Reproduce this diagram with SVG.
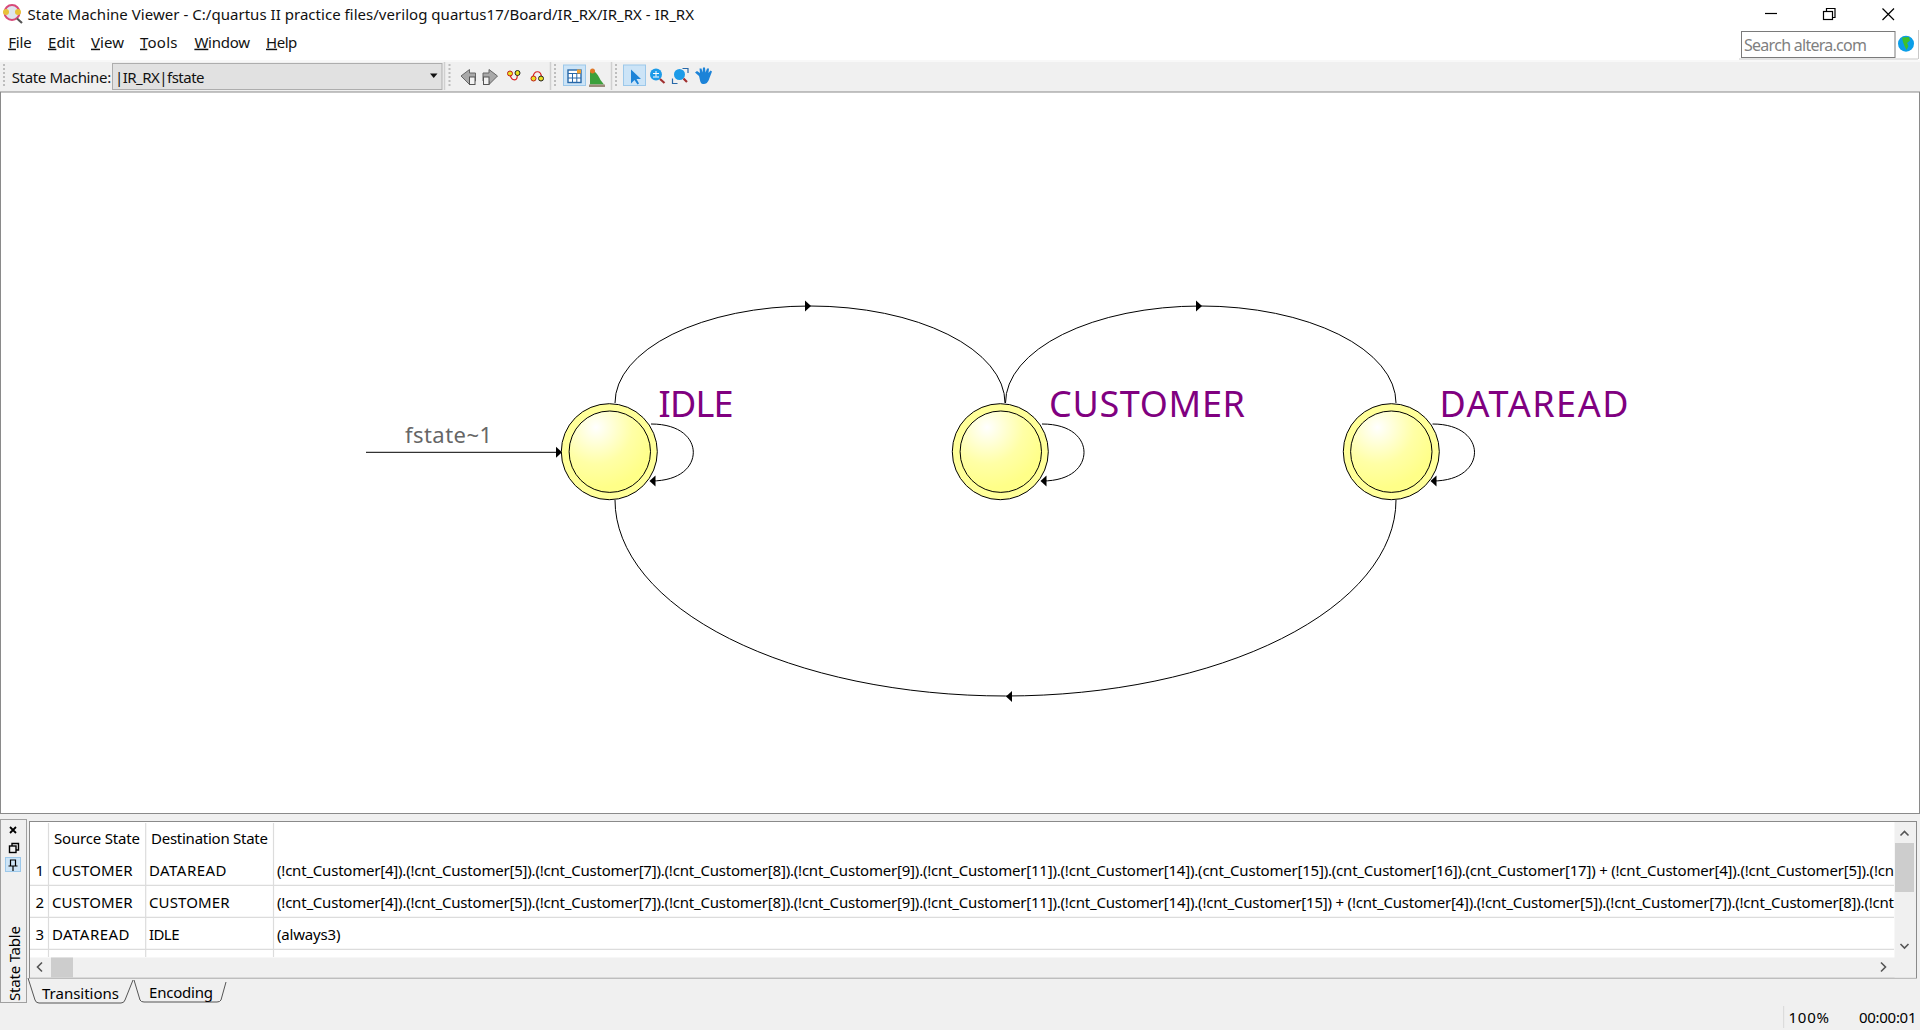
<svg xmlns="http://www.w3.org/2000/svg" width="1920" height="1030" viewBox="0 0 1920 1030">
<style>
text{font-family:"Noto Sans","Open Sans","Liberation Sans",sans-serif;fill:#000;font-size:15px}
.ui{fill:#111}
.cell{font-size:15px}
.state{font-size:36px;fill:#800080}
.edge{fill:none;stroke:#000;stroke-width:1}
.ring{fill:#ffff99;stroke:#000;stroke-width:1}
.core{fill:url(#ball);stroke:#000;stroke-width:1}
.grid{stroke:#dcdcdc;stroke-width:1.2;fill:none}
.sep{stroke:#d0d0d0;stroke-width:1.5}
.grip{stroke:#bdbdbd;stroke-width:2;stroke-dasharray:2 2}
.chev{fill:none;stroke:#555;stroke-width:1.6}
.ico{fill:#a9a9a9;stroke:#666;stroke-width:1}
.on{fill:#cce4f7;stroke:#9cc8ea;stroke-width:1}
.wb{fill:none;stroke:#000;stroke-width:1.2}
.tab{fill:none;stroke:#555;stroke-width:1}
</style>
<defs>
<radialGradient id="ball" cx="0.33" cy="0.2" r="0.75"><stop offset="0" stop-color="#ffffff"/><stop offset="0.6" stop-color="#ffffa6"/><stop offset="1" stop-color="#ffff88"/></radialGradient>
<polygon id="arrowR" points="-6,-5.500 0,0 -6,5.500"/>
</defs>
<rect width="1920" height="1030" fill="#f0f0f0"/>
<rect width="1920" height="60" fill="#fff"/>
<g id="titlebar">
<circle cx="12" cy="12.500" r="7.500" fill="#dfe6ee" stroke="#d84a7a" stroke-width="2"/>
<circle cx="6" cy="12" r="3" fill="#e8c13a"/><circle cx="18" cy="12" r="3" fill="#e8c13a"/>
<line x1="17" y1="18.500" x2="22" y2="23" stroke="#555" stroke-width="2.200"/>
<text x="27.500" y="20" class="ui" textLength="666.500" lengthAdjust="spacing">State Machine Viewer - C:/quartus II practice files/verilog quartus17/Board/IR_RX/IR_RX - IR_RX</text>
<line x1="1765" y1="13.500" x2="1777" y2="13.500" class="wb"/>
<rect x="1823.500" y="11.500" width="9" height="8" fill="#fff" stroke="#000" stroke-width="1.200"/>
<path d="M1826.500 11.500V8.500H1835V17.500H1832.500" class="wb"/>
<path d="M1882.500 8.500L1894 20M1894 8.500L1882.500 20" class="wb"/>
</g>
<g id="menubar">
<text x="8.200" y="47.700" class="ui" textLength="23.500" lengthAdjust="spacing"><tspan text-decoration="underline">F</tspan>ile</text>
<text x="48" y="47.700" class="ui" textLength="27" lengthAdjust="spacing"><tspan text-decoration="underline">E</tspan>dit</text>
<text x="91" y="47.700" class="ui" textLength="33" lengthAdjust="spacing"><tspan text-decoration="underline">V</tspan>iew</text>
<text x="140" y="47.700" class="ui" textLength="37.500" lengthAdjust="spacing"><tspan text-decoration="underline">T</tspan>ools</text>
<text x="194.400" y="47.700" class="ui" textLength="55.600" lengthAdjust="spacing"><tspan text-decoration="underline">W</tspan>indow</text>
<text x="266" y="47.700" class="ui" textLength="31.300" lengthAdjust="spacing"><tspan text-decoration="underline">H</tspan>elp</text>
<rect x="1741.500" y="31.500" width="153.500" height="26" fill="#fff" stroke="#7a7a7a" stroke-width="1"/>
<text x="1744" y="50.700" style="fill:#808080;font-size:16px" textLength="123" lengthAdjust="spacing">Search altera.com</text>
<circle cx="1906" cy="43.700" r="8" fill="#0b9ee8"/>
<path d="M1902 37.500L1909 37l1 3.500-3 2.500 1.500 3-2 4-2-4-1.500-4z" fill="#3fc02a"/>
<line x1="1739" y1="59" x2="1918" y2="59" stroke="#c8c8c8"/>
<line x1="1918.500" y1="30" x2="1918.500" y2="59" stroke="#c8c8c8"/>
</g>
<g id="toolbar">
<rect x="0" y="60" width="1920" height="2" fill="#f8f8f8"/>
<line x1="4" y1="64" x2="4" y2="88" class="grip"/>
<text x="11.700" y="82.700" class="ui" textLength="99.500" lengthAdjust="spacing">State Machine:</text>
<rect x="112.500" y="63.500" width="329.500" height="26" fill="#e1e1e1" stroke="#adadad"/>
<text x="115" y="82.700" class="ui" textLength="89.500" lengthAdjust="spacing">|IR_RX|fstate</text>
<polygon points="430,73.500 437.500,73.500 433.700,78" fill="#111"/>
<line x1="444.500" y1="62" x2="444.500" y2="90" class="sep"/>
<line x1="449.500" y1="64" x2="449.500" y2="88" class="grip"/>
<path d="M461 76L469.500 69.500V73H475.500V81H469.500V84.500z" class="ico"/>
<rect x="469.500" y="77" width="5.500" height="7.500" fill="#f2f2f2" stroke="#555"/>
<path d="M497.500 76L489 69.500V73H483V81H489V84.500z" class="ico"/>
<rect x="483.500" y="77" width="5.500" height="7.500" fill="#f2f2f2" stroke="#555"/>
<path d="M510 73.500C511 82 519 82 517 73.500" fill="none" stroke="#d92020" stroke-width="1.200"/>
<circle cx="510" cy="73.500" r="2.500" fill="#e8e020" stroke="#c01818"/>
<circle cx="517.500" cy="73" r="2.500" fill="#e8e020" stroke="#222"/>
<path d="M533 77C534 70 541 70 541.500 77" fill="none" stroke="#d92020" stroke-width="1.200"/>
<circle cx="533.500" cy="78.500" r="2.500" fill="#e8e020" stroke="#c01818"/>
<circle cx="541" cy="78.500" r="2.500" fill="#e8e020" stroke="#222"/>
<line x1="550.500" y1="62" x2="550.500" y2="90" class="sep"/>
<line x1="555" y1="64" x2="555" y2="88" class="grip"/>
<rect x="563.500" y="65" width="22" height="20.500" class="on"/>
<rect x="568" y="70" width="13" height="12.500" fill="#fff" stroke="#2868a8" stroke-width="1.400"/>
<path d="M568 73.500H581M572.500 73.500V82.500M576.800 73.500V82.500M568 78H581" stroke="#2868a8" fill="none"/>
<rect x="577" y="69.500" width="4" height="4" fill="#f0a030"/>
<path d="M590 84.500H604L600.500 80C599 76 595 71 592 69.500L590 72z" fill="#3ca03c"/>
<circle cx="592.500" cy="71" r="2.500" fill="#e07828"/>
<path d="M589 84.500H605V87H589z" fill="#9a8a7a"/>
<line x1="611.500" y1="62" x2="611.500" y2="90" class="sep"/>
<line x1="616" y1="64" x2="616" y2="88" class="grip"/>
<rect x="623.500" y="65" width="22" height="20.500" class="on"/>
<path d="M631 69.500V83.500L634.500 80L637.500 84.500L639 83.500L636.500 79H641z" fill="#1c83d8"/>
<circle cx="656" cy="74.500" r="6" fill="#1c9be8"/>
<path d="M653 73.500H659M656 71V76.500M653 77H659" stroke="#fff" fill="none"/>
<line x1="660" y1="79" x2="664.500" y2="83" stroke="#a03030" stroke-width="2.200"/>
<circle cx="679.500" cy="74.500" r="5.500" fill="#1c9be8"/>
<line x1="683.500" y1="78.500" x2="687" y2="82" stroke="#a03030" stroke-width="2.200"/>
<path d="M672.500 78.500V83.500H677.500M682.500 68.500H688V73" fill="none" stroke="#2868a8" stroke-width="1.200"/>
<path d="M699 76L695 72.500L697 71L700 73L699.500 68.500H701.500L702.500 72.500L703 67.500H705L705.500 72.500L707 68.500H709L708.500 73L710.500 70.500L712 71.500L709.500 78C708 83 706 84 703 84C700 84 700 79 699 76z" fill="#1c83d8"/>
</g>
<g id="canvas">
<rect x="0.500" y="92" width="1919" height="721.500" fill="#fff" stroke="#8a8a8a" stroke-width="1"/>
</g>
<g id="connectors">
<line class="edge" x1="366" y1="452.300" x2="560" y2="452.300"/>
<path class="edge" d="M615 403A195 97 0 0 1 1005 403"/>
<path class="edge" d="M1005.500 403A195.250 97 0 0 1 1396 403"/>
<path class="edge" d="M1396 500A390.500 196 0 0 1 615 500"/>
<path class="edge" d="M651 424C681 424 693.300 439 693.300 452.300C693.300 466 681 481 651 481"/>
<path class="edge" d="M1042 424C1072 424 1084 439 1084 452.300C1084 466 1072 481 1042 481"/>
<path class="edge" d="M1432.500 424C1462 424 1474.500 439 1474.500 452.300C1474.500 466 1462 481 1432.500 481"/>
<use href="#arrowR" transform="translate(562 452.300)"/>
<use href="#arrowR" transform="translate(811 306)"/>
<use href="#arrowR" transform="translate(1202 306)"/>
<use href="#arrowR" transform="translate(1006 696.500) rotate(180)"/>
<use href="#arrowR" transform="translate(649.500 481) rotate(180)"/>
<use href="#arrowR" transform="translate(1040.500 481) rotate(180)"/>
<use href="#arrowR" transform="translate(1430.500 481) rotate(180)"/>
</g>
<g id="entry-label"><text x="405" y="442.700" style="font-size:22px;fill:#666" textLength="87" lengthAdjust="spacing">fstate~1</text></g>
<g id="node-idle">
<circle class="ring" cx="609.300" cy="451.700" r="48"/>
<circle class="core" cx="609.800" cy="451.700" r="40.700"/>
<text class="state" x="658.500" y="417" textLength="75" lengthAdjust="spacing">IDLE</text>
</g>
<g id="node-customer">
<circle class="ring" cx="1000.300" cy="451.700" r="48"/>
<circle class="core" cx="1000.800" cy="451.700" r="40.700"/>
<text class="state" x="1049" y="417" textLength="196" lengthAdjust="spacing">CUSTOMER</text>
</g>
<g id="node-dataread">
<circle class="ring" cx="1391.300" cy="451.700" r="48"/>
<circle class="core" cx="1391.300" cy="451.700" r="40.700"/>
<text class="state" x="1439.500" y="417" textLength="189" lengthAdjust="spacing">DATAREAD</text>
</g>
<g id="dock">
<rect x="0.500" y="819.500" width="26" height="183" fill="#f0f0f0" stroke="#a0a0a0"/>
<path d="M10 827L16 833M16 827L10 833" stroke="#000" stroke-width="1.800"/>
<rect x="9.500" y="846" width="6.500" height="6.500" fill="none" stroke="#000" stroke-width="1.400"/>
<path d="M12 846V843.500H18.500V850H16" fill="none" stroke="#000" stroke-width="1.400"/>
<rect x="5.500" y="857.500" width="15" height="14" class="on"/>
<path d="M10.500 860H15.500V866H10.500zM8.500 866H17.500M13 866V871" fill="none" stroke="#000" stroke-width="1.200"/>
<text transform="translate(19.500 1001) rotate(-90)" class="cell" textLength="75" lengthAdjust="spacing">State Table</text>
</g>
<g id="table">
<rect x="29.500" y="821.500" width="1887" height="156.500" fill="#fff" stroke="#8a8a8a"/>
<path class="grid" d="M48.500 823V957M145.700 823V957M273.500 823V957M30 885.300H1894M30 917.300H1894M30 949.300H1894"/>
<rect x="30" y="957.500" width="1886" height="20" fill="#f0f0f0"/>
<rect x="51" y="957.500" width="22" height="20" fill="#cdcdcd"/>
<rect x="1894.500" y="822" width="21.500" height="155.500" fill="#f0f0f0"/>
<rect x="1895" y="843" width="19" height="49" fill="#cdcdcd"/>
<path class="chev" d="M42 962.500L37.500 967L42 971.500M1881 962.500L1885.500 967L1881 971.500M1900.500 835.500L1904.500 831.500L1908.500 835.500M1900.500 944L1904.500 948L1908.500 944"/>
<text x="54" y="844" class="cell" textLength="86" lengthAdjust="spacing">Source State</text>
<text x="151" y="844" class="cell" textLength="117" lengthAdjust="spacing">Destination State</text>
<text x="35.500" y="876" class="cell">1</text>
<text x="52" y="876" class="cell" textLength="80.500" lengthAdjust="spacing">CUSTOMER</text>
<text x="149" y="876" class="cell" textLength="77.500" lengthAdjust="spacing">DATAREAD</text>
<text x="277" y="876" class="cell" textLength="1617" lengthAdjust="spacing">(!cnt_Customer[4]).(!cnt_Customer[5]).(!cnt_Customer[7]).(!cnt_Customer[8]).(!cnt_Customer[9]).(!cnt_Customer[11]).(!cnt_Customer[14]).(cnt_Customer[15]).(cnt_Customer[16]).(cnt_Customer[17]) + (!cnt_Customer[4]).(!cnt_Customer[5]).(!cn</text>
<text x="35.500" y="908" class="cell">2</text>
<text x="52" y="908" class="cell" textLength="80.500" lengthAdjust="spacing">CUSTOMER</text>
<text x="149" y="908" class="cell" textLength="80.500" lengthAdjust="spacing">CUSTOMER</text>
<text x="277" y="908" class="cell" textLength="1617" lengthAdjust="spacing">(!cnt_Customer[4]).(!cnt_Customer[5]).(!cnt_Customer[7]).(!cnt_Customer[8]).(!cnt_Customer[9]).(!cnt_Customer[11]).(!cnt_Customer[14]).(!cnt_Customer[15]) + (!cnt_Customer[4]).(!cnt_Customer[5]).(!cnt_Customer[7]).(!cnt_Customer[8]).(!cnt</text>
<text x="35.500" y="940" class="cell">3</text>
<text x="52" y="940" class="cell" textLength="77.500" lengthAdjust="spacing">DATAREAD</text>
<text x="149" y="940" class="cell" textLength="30.500" lengthAdjust="spacing">IDLE</text>
<text x="277" y="940" class="cell" textLength="63.500" lengthAdjust="spacing">(always3)</text>
</g>
<g id="tabs">
<path class="tab" d="M28 978L35 1000Q36 1003 39 1003H121Q124 1003 125 1000L133 980M134 980L140 1000Q141 1002 144 1002H217Q220 1002 221 1000L226 982"/>
<text x="42" y="999" textLength="77" lengthAdjust="spacing">Transitions</text>
<text x="149" y="997.700" textLength="64" lengthAdjust="spacing">Encoding</text>
</g>
<g id="statusbar">
<line x1="1783.700" y1="1006" x2="1783.700" y2="1028" stroke="#d8d8d8"/>
<text x="1788.500" y="1023" textLength="40.500" lengthAdjust="spacing">100%</text>
<text x="1859" y="1023" textLength="57.500" lengthAdjust="spacing">00:00:01</text>
</g>
</svg>
